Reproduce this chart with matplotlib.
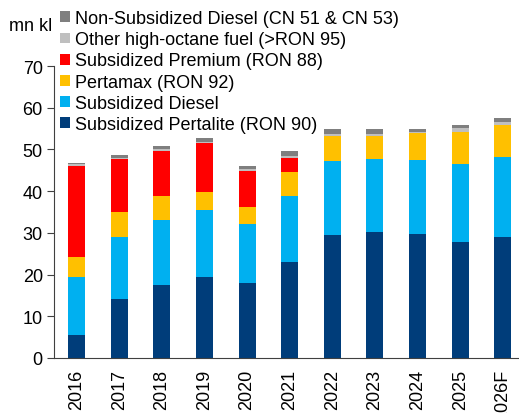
import matplotlib
matplotlib.use("Agg")
import matplotlib.pyplot as plt
import numpy as np

years = ["2016", "2017", "2018", "2019", "2020", "2021", "2022", "2023", "2024", "2025", "2026F"]

pertalite = [5.6, 14.2, 17.5, 19.3, 18.0, 23.1, 29.6, 30.1, 29.7, 27.9, 29.1]
sub_diesel = [13.7, 14.7, 15.7, 16.3, 14.1, 15.7, 17.7, 17.6, 17.7, 18.6, 19.2]
pertamax = [4.9, 6.2, 5.6, 4.2, 4.0, 5.7, 5.9, 5.6, 6.6, 7.6, 7.6]
sub_premium = [21.8, 12.6, 10.8, 11.7, 8.7, 3.5, 0, 0, 0, 0, 0]
other_octane = [0.4, 0.3, 0.4, 0.3, 0.4, 0.5, 0.4, 0.3, 0.3, 1.0, 0.8]
nonsub_diesel = [0.3, 0.7, 0.9, 1.0, 0.8, 1.1, 1.2, 1.2, 0.7, 0.8, 0.9]

series = [
    ("Subsidized Pertalite (RON 90)", pertalite, "#003D7A"),
    ("Subsidized Diesel", sub_diesel, "#00B0F0"),
    ("Pertamax (RON 92)", pertamax, "#FFC000"),
    ("Subsidized Premium (RON 88)", sub_premium, "#FF0000"),
    ("Other high-octane fuel (>RON 95)", other_octane, "#BFBFBF"),
    ("Non-Subsidized Diesel (CN 51 & CN 53)", nonsub_diesel, "#7F7F7F"),
]

plt.rcParams["font.family"] = ["Liberation Sans", "DejaVu Sans"]
fs = 13

fig = plt.figure(figsize=(5.19, 4.14), dpi=100)
ax = fig.add_axes([0.104, 0.133, 0.896, 0.705])

x = np.arange(len(years))
bottom = np.zeros(len(years))
handles = []
for label, vals, color in series:
    vals = np.array(vals)
    h = ax.bar(x, vals, 0.4, bottom=bottom, color=color, label=label)
    handles.append(h)
    bottom += vals

ax.set_xlim(-0.53, 10.38)
ax.set_ylim(0, 70)
ax.set_yticks(range(0, 71, 10))
ax.set_xticks(x)
ax.set_xticklabels(years, rotation=90)
ax.tick_params(axis="y", labelsize=fs, length=5, direction="out", color="#404040", pad=3)
ax.tick_params(axis="x", labelsize=fs, length=0, pad=8)
for s in ["top", "right"]:
    ax.spines[s].set_visible(False)
ax.spines["left"].set_color("#404040")
ax.spines["bottom"].set_color("#404040")

fig.text(0.018, 0.935, "mn kl", fontsize=fs, va="center", ha="left")

fig.legend(handles[::-1], [s[0] for s in series][::-1],
           loc="upper left", bbox_to_anchor=(0.115, 0.973),
           frameon=False, fontsize=fs, handlelength=0.55, handleheight=0.55,
           handletextpad=0.3, labelspacing=0.23, borderaxespad=0, borderpad=0)

fig.savefig("out.png", dpi=100)
